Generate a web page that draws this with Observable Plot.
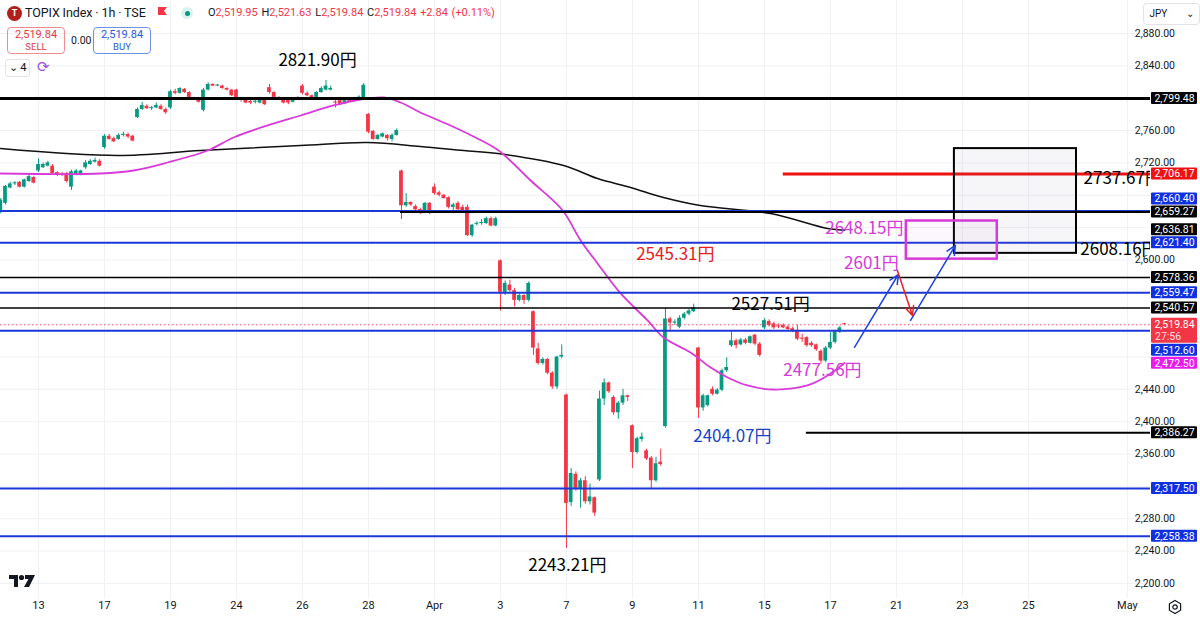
<!DOCTYPE html>
<html>
<head>
<meta charset="utf-8">
<script src="https://cdn.jsdelivr.net/npm/d3@7"></script>
<script src="https://cdn.jsdelivr.net/npm/@observablehq/plot@0.6"></script>
<style>
html,body{margin:0;padding:0;background:#fff;}
#wrap{position:relative;width:1200px;height:619px;overflow:hidden;font-family:Roboto,"Noto Sans",sans-serif;color:#131722;}
.ov{position:absolute;white-space:nowrap;}
</style>
</head>
<body>
<div id="wrap"></div>
<script>
// ---------- DATA ----------
// bar position: 0 = first hourly bar of Mar 13; 7 hourly bars per trading day
const barsPerDay = 7;
const firstBar = -8;          // last bar of Mar 11
const viewStart = -8.06, viewEnd = 235.9;
const priceMin = 2181.4, priceMax = 2920.8;

// [open, high, low, close] hourly candles, Mar 11 (last bar) .. Apr 17
const candles = [
 [2659,2676,2657,2674],
 // Mar 12
 [2670,2692,2668,2691],[2689,2696,2688,2694],[2694,2697,2692,2695],[2696,2697,2689,2690],[2690,2700,2689,2699],[2697,2706,2696,2703],[2702,2703,2694,2695],
 // Mar 13
 [2710,2725,2708,2718],[2714,2720,2713,2718],[2716,2722,2715,2720],[2716,2718,2706,2707],[2708,2709,2703,2705],[2706,2708,2703,2705],[2707,2708,2695,2697],
 // Mar 14
 [2690,2711,2686,2709],[2705,2712,2704,2710],[2705,2711,2704,2710],[2714,2723,2712,2720],[2718,2724,2717,2722],[2721,2726,2720,2723],[2722,2724,2715,2716],
 // Mar 17
 [2739,2755,2737,2753],[2753,2755,2748,2749],[2750,2752,2745,2746],[2749,2756,2748,2754],[2754,2758,2752,2755],[2755,2757,2750,2752],[2753,2754,2746,2747],
 // Mar 18
 [2776,2788,2775,2786],[2786,2795,2785,2791],[2790,2792,2786,2787],[2787,2790,2785,2788],[2788,2794,2787,2791],[2790,2792,2785,2786],[2786,2788,2780,2782],
 // Mar 19
 [2788,2810,2786,2808],[2808,2811,2804,2806],[2806,2813,2805,2812],[2811,2812,2806,2807],[2807,2808,2800,2801],[2800,2801,2797,2799],[2799,2800,2794,2795],
 // Mar 21
 [2785,2812,2783,2810],[2810,2819,2809,2817],[2817,2818,2814,2815],[2815,2817,2814,2815.5],[2815,2816,2811,2812],[2812,2813,2809,2810],[2810,2811,2802,2803],
 // Mar 24
 [2810,2811,2799,2801],[2799,2801,2795,2798],[2799,2800,2793,2794],[2796,2797,2792,2794],[2795,2797,2793,2795.5],[2794,2799,2793,2798],[2798,2799,2791,2792],
 // Mar 25
 [2813,2817,2805,2807],[2807,2808,2800,2801],[2800,2802,2797,2799],[2799,2800,2793,2794],[2797,2798,2792,2794],[2795,2800,2794,2799],[2799,2802,2797,2800],
 // Mar 26
 [2815,2817,2804,2806],[2806,2808,2802,2803],[2803,2804,2798,2799],[2801,2808,2800,2807],[2807,2814,2806,2812],[2810,2821.9,2809,2815],[2810,2815,2809,2812],
 // Mar 27
 [2795,2799,2788,2794],[2797,2798,2791,2793],[2793,2798,2792,2797],[2799,2800,2795,2796],[2796,2801,2795,2800],[2800,2803,2799,2801],[2799,2818,2798,2816],
 // Mar 28
 [2780,2781,2756,2758],[2759,2760,2748,2749],[2749,2755,2748,2754],[2752,2757,2751,2756],[2754,2755,2747,2750],[2749,2756,2746,2754],[2754,2762,2753,2760],
 // Mar 31
 [2710,2711,2650,2667],[2667,2682,2665,2671],[2671,2672,2666,2668],[2666,2668,2660,2662],[2662,2664,2656,2661],[2661,2671,2659,2670],[2670,2671,2656,2658],
 // Apr 1
 [2690,2694,2680,2682],[2683,2685,2678,2680],[2680,2681,2675,2676],[2677,2678,2663,2665],[2665,2670,2657,2668],[2670,2672,2660,2662],[2665,2668,2658,2660],
 // Apr 2
 [2665,2668,2629,2630],[2630,2644,2628,2643],[2644,2647,2642,2645],[2645,2650,2643,2646],[2645,2653,2644,2651],[2651,2653,2641,2642],[2642,2653,2641,2651],
 // Apr 3
 [2599,2600,2537,2560],[2560,2574,2556,2571],[2569,2575,2560,2562],[2562,2565,2542,2550],[2550,2558,2548,2556],[2556,2557,2545,2550],[2550,2573,2548,2571],
 // Apr 4
 [2536,2537,2482,2491],[2490,2497,2470,2472],[2472,2479,2470,2477],[2477,2478,2458,2460],[2460,2462,2440,2443],[2443,2481,2440,2480],[2480,2495,2478,2482],
 // Apr 7
 [2433,2434,2243.21,2299],[2300,2342,2295,2336],[2335,2338,2314,2317],[2317,2330,2293,2327],[2327,2332,2298,2301],[2301,2323,2297,2307],[2306,2307,2283,2287],
 // Apr 8
 [2328,2438,2326,2428],[2428,2453,2420,2448],[2448,2449,2435,2437],[2430,2432,2408,2411],[2411,2425,2403,2423],[2423,2440,2420,2432],[2432,2433,2425,2430],
 // Apr 9
 [2395,2396,2342,2362],[2362,2381,2360,2379],[2378,2386,2375,2381],[2364,2366,2352,2354],[2355,2357,2317,2327],[2327,2356,2325,2348],[2350,2366,2345,2347],
 // Apr 10
 [2394,2540,2392,2527],[2527,2529,2511,2522],[2522,2526,2519,2523],[2517,2531,2515,2528],[2528,2535,2526,2533],[2533,2539,2531,2537],[2536,2545.31,2535,2541],
 // Apr 11
 [2491,2492,2404.07,2417],[2417,2434,2413,2432],[2420,2433,2418,2432],[2440,2443,2432,2434],[2434,2441,2433,2439],[2439,2465,2437,2463],[2463,2479,2461,2467],
 // Apr 14
 [2494,2511,2492,2500],[2500,2502,2490,2494],[2495,2503,2494,2501],[2501,2503,2495,2497],[2497,2506,2496,2505],[2507,2508,2494,2496],[2496,2498,2480,2482],
 // Apr 15
 [2516,2527.51,2514,2525],[2524,2526,2517,2519],[2521,2523,2514,2516],[2518,2521,2515,2517],[2519,2521,2515,2516],[2517,2519,2512,2514],[2515,2517,2510,2512],
 // Apr 16
 [2513,2519,2500,2502],[2503,2508,2498,2502],[2504,2505,2492,2494],[2497,2499,2492,2494],[2495,2496,2487,2489],[2487,2489,2471,2475],[2475,2493,2473,2491],
 // Apr 17
 [2491,2510,2489,2498],[2498,2513,2496,2511],[2511,2518,2509,2516],[2519.95,2521.63,2519.84,2519.84]
];

// x-axis ticks: trading-day index (0 = Mar 13) and labels
const xTickDay   = [0,2,4,6,8,10,12,14,16,18,20,22,24,26,28,30,33];
const xTickLabel = ["13","17","19","24","26","28","Apr","3","7","9","11","15","17","21","23","25","May"];
const yTicks = d3.range(2200, 2881, 40);

// moving averages: [bar position, value]
const maPink = [[-8.06,2706.9],[13.2,2706.9],[20.2,2710.6],[27.4,2720.5],[35.9,2735.3],[41.4,2751.4],[48.6,2766.3],[55.6,2778.6],[62.6,2791.0],[68.3,2798.4],[73.2,2800.9],[76.8,2794.7],[81.0,2782.3],[87.4,2766.3],[92.7,2751.4],[97.6,2735.3],[104.4,2698.2],[111.2,2661.2],[115.0,2624.1],[118.6,2595.7],[123.5,2558.6],[129.2,2525.2],[132.6,2504.1],[138.3,2485.6],[142.6,2467.0],[146.2,2454.7],[150.4,2444.8],[155.9,2439.8],[163.1,2444.8],[167.4,2457.1],[171,2472.5]];
const maBlack = [[-8.06,2737.8],[16.8,2729.2],[34.4,2735.3],[55.6,2741.5],[69.8,2745.2],[81.0,2740.3],[90.2,2735.3],[97.4,2731.6],[111.4,2716.8],[118.6,2700.7],[125.6,2689.6],[132.6,2677.2],[140.4,2667.3],[155.3,2657.4],[167.4,2638.9],[171,2636.81]];

// horizontal price levels
const majorLevels = [2799.48];
const blackLevels = [2578.36, 2540.57];
const blueLevels  = [2660.40, 2621.40, 2559.47, 2512.60, 2317.50, 2258.38];
const blackRays   = [{v:2659.27, from:76.8},{v:2386.27, from:162.9}];
const redRays     = [{v:2706.17, from:158.0}];
const currentPrice = 2519.84;

// target zones
const targetBox = [{p1:194.3, p2:220.2, lo:2608.16, hi:2737.67}];
const entryBox  = [{p1:184.1, p2:203.4, lo:2601.00, hi:2648.15}];

// scenario arrows
const blueArrows = [{p1:173.1,v1:2491.8,p2:182.4,v2:2582.0},{p1:185.0,v1:2525.2,p2:194.5,v2:2617.9}];
const redArrows  = [{p1:182.2,v1:2587.0,p2:185.4,v2:2531.3}];

// annotations
const notesBlack   = [{p:59.2,v:2846.6,t:"2821.90円"},{p:112.2,v:2222.3,t:"2243.21円"},{p:155.3,v:2545.0,t:"2527.51円"}];
const notesRed     = [{p:135.1,v:2606.8,t:"2545.31円"}];
const notesMagenta = [{p:166.3,v:2463.3,t:"2477.56円"},{p:175.2,v:2638.9,t:"2648.15円"},{p:176.7,v:2595.6,t:"2601円"}];
const notesBlue    = [{p:147.2,v:2381.7,t:"2404.07円"}];
const notesEdge    = [{p:221.7,v:2700.7,t:"2737.67円"},{p:221.0,v:2613.0,t:"2608.16円"}];

// right-axis price tags: value, kind
const priceTags = [
 [2799.48,"black"],[2706.17,"red"],[2660.40,"blue"],[2659.27,"black"],[2636.81,"black"],
 [2621.40,"blue"],[2578.36,"black"],[2559.47,"blue"],[2540.57,"black"],[2519.84,"current"],
 [2512.60,"blue"],[2472.50,"magenta"],[2386.27,"black"],[2317.50,"blue"],[2258.38,"blue"]
];

// ---------- STYLE / LAYOUT ----------
const UP = "#089981", DN = "#f23645", BLUE = "#1c37d6", MAG = "#d93ad9", GRID = "#f0f1f5";
const noteFont = "'Noto Sans CJK JP','Noto Sans',sans-serif";
const W = 1200, H = 619, MR = 50, MB = 21;
const fmt = d3.format(",.2f");

// same y scale the plot will use, to lay out the axis tags beforehand
const yPre = Plot.scale({y:{domain:[priceMin, priceMax], range:[H-MB, 0]}});
const TH = 12;
const tags = priceTags.map(([v,k])=>({v,k,cy:yPre.apply(v)})).sort((a,b)=>a.cy-b.cy);
const fi = tags.findIndex(d=>d.k==="current");
const f = tags[fi]; f.top = f.cy-6.5; f.bottom = f.cy+18.5;
let prevBottom = f.bottom;
for (let i=fi+1;i<tags.length;i++){ const t=tags[i]; t.top=Math.max(t.cy-TH/2, prevBottom+1); t.bottom=t.top+TH; prevBottom=t.bottom; }
let nextTop = f.top;
for (let i=fi-1;i>=0;i--){ const t=tags[i]; t.bottom=Math.min(t.cy+TH/2, nextTop-1); t.top=t.bottom-TH; nextTop=t.top; }
// axis tick labels hidden behind a tag are not drawn
const shownTicks = yTicks.filter(v=>{
  const c = yPre.apply(v);
  return !tags.some(t=>Math.min(c+5,t.bottom)-Math.max(c-5,t.top) > 1.5);
});

const bars = candles.map(([o,h,l,c],i)=>({p:firstBar+i,o,h,l,c,up:c>=o}));

const plot = Plot.plot({
  width:W, height:H,
  marginLeft:0, marginRight:MR, marginTop:0, marginBottom:MB,
  x:{domain:[viewStart, viewEnd], axis:null},
  y:{domain:[priceMin, priceMax], axis:null},
  color:{type:"identity"},
  style:{fontFamily:"Roboto, 'Noto Sans', sans-serif", background:"#fff", overflow:"visible"},
  marks:[
    Plot.ruleY(yTicks,{stroke:GRID}),
    Plot.ruleX(xTickDay,{x:d=>d*barsPerDay, stroke:GRID}),
    Plot.ruleX(bars,{x:"p", y1:"l", y2:"h", stroke:d=>d.up?UP:DN, strokeWidth:1}),
    Plot.rect(bars,{x1:d=>d.p-0.4, x2:d=>d.p+0.4,
      y1:d=>Math.min(d.o,d.c), y2:d=>Math.max(Math.max(d.o,d.c), Math.min(d.o,d.c)+1.3),
      fill:d=>d.up?UP:DN}),
    Plot.line(maBlack,{x:d=>d[0], y:d=>d[1], stroke:"#111", strokeWidth:1.5, curve:"catmull-rom"}),
    Plot.line(maPink,{x:d=>d[0], y:d=>d[1], stroke:MAG, strokeWidth:1.8, curve:"catmull-rom"}),
    Plot.ruleY([currentPrice],{stroke:DN, strokeWidth:1, strokeDasharray:"1.5 2.5", strokeOpacity:0.8}),
    Plot.ruleY(blueLevels,{stroke:BLUE, strokeWidth:2}),
    Plot.ruleY(blackLevels,{stroke:"#000", strokeWidth:1.5}),
    Plot.ruleY(majorLevels,{stroke:"#000", strokeWidth:3}),
    Plot.ruleY(blackRays,{y:"v", x1:"from", x2:()=>viewEnd, stroke:"#000", strokeWidth:2}),
    Plot.ruleY(redRays,{y:"v", x1:"from", x2:()=>viewEnd, stroke:"#ee1111", strokeWidth:3}),
    Plot.rect(targetBox,{x1:"p1", x2:"p2", y1:"lo", y2:"hi", fill:"#8e92a8", fillOpacity:0.08, stroke:"#000", strokeWidth:2}),
    Plot.rect(entryBox,{x1:"p1", x2:"p2", y1:"lo", y2:"hi", fill:"#d070e0", fillOpacity:0.06, stroke:"#d63ad6", strokeWidth:2.5}),
    Plot.arrow(blueArrows,{x1:"p1", y1:"v1", x2:"p2", y2:"v2", stroke:"#1c45e0", strokeWidth:1.5, headLength:10, headAngle:50}),
    Plot.arrow(redArrows,{x1:"p1", y1:"v1", x2:"p2", y2:"v2", stroke:"#e8201e", strokeWidth:1.5, headLength:10, headAngle:50}),
    Plot.text(notesBlack,{x:"p", y:"v", text:"t", fill:"#000", fontSize:17, fontFamily:noteFont}),
    Plot.text(notesRed,{x:"p", y:"v", text:"t", fill:"#e8201e", fontSize:17, fontFamily:noteFont}),
    Plot.text(notesMagenta,{x:"p", y:"v", text:"t", fill:"#d63ad6", fontSize:17, fontFamily:noteFont}),
    Plot.text(notesBlue,{x:"p", y:"v", text:"t", fill:"#1a3fc9", fontSize:17, fontFamily:noteFont}),
    Plot.text(notesEdge,{x:"p", y:"v", text:"t", fill:"#000", fontSize:17, fontFamily:noteFont, textAnchor:"start", clip:true}),
    Plot.text(shownTicks,{y:d=>d, text:d=>fmt(d), frameAnchor:"right", dx:24.5, fontSize:10.5, fill:"#131722"}),
    Plot.text(xTickDay,{x:d=>d*barsPerDay, text:(d,i)=>xTickLabel[i], frameAnchor:"bottom", dy:10, fontSize:11, fill:"#131722"})
  ]
});
plot.style.position = "absolute"; plot.style.left = "0"; plot.style.top = "0";
const wrap = document.getElementById("wrap");
wrap.appendChild(plot);

// ---------- right-axis price tags ----------
const tagColor = {black:"#000", red:"#ee1111", blue:"#1030e0", magenta:"#e81ce8", current:"#f23645"};
const g = d3.select(plot).append("g").attr("font-family","Roboto, 'Noto Sans', sans-serif").attr("font-size",10.5);
for (const t of tags){
  g.append("rect").attr("x",1151).attr("y",t.top).attr("width",46).attr("height",t.bottom-t.top).attr("rx",1).attr("fill",tagColor[t.k]);
  g.append("text").attr("x",1174.5).attr("y",t.top+6).attr("dy","0.36em").attr("text-anchor","middle").attr("fill","#fff").text(fmt(t.v));
  if (t.k==="current") g.append("text").attr("x",1155).attr("y",t.top+18.5).attr("dy","0.36em").attr("text-anchor","start").attr("fill","#fff").attr("fill-opacity",0.85).text("27:56");
}

// ---------- header overlays ----------
wrap.insertAdjacentHTML("beforeend", `
<div class="ov" style="left:7px;top:6px;width:15px;height:15px;border-radius:50%;background:#b3201c;color:#fff;font-size:9px;font-weight:bold;text-align:center;line-height:15px">T</div>
<div class="ov" style="left:25px;top:5px;font-size:12.5px;letter-spacing:-0.1px;color:#131722">TOPIX Index · 1h · TSE</div>
<svg class="ov" style="left:157px;top:7px" width="11" height="12"><path d="M1 0 H10 L7 4 L10 8 H1 Z" fill="#f23645"/></svg>
<div class="ov" style="left:181px;top:7px;width:12px;height:12px;border-radius:50%;background:#d9f2ee"></div>
<div class="ov" style="left:184.5px;top:10.5px;width:5px;height:5px;border-radius:50%;background:#089981"></div>
<div class="ov" style="left:208px;top:6px;font-size:11px;color:#131722;word-spacing:1px">O<span style="color:#f23645">2,519.95</span> H<span style="color:#f23645">2,521.63</span> L<span style="color:#f23645">2,519.84</span> C<span style="color:#f23645">2,519.84</span> <span style="color:#f23645">+2.84 (+0.11%)</span></div>
<div class="ov" style="left:7px;top:27px;width:56px;height:24px;border:1px solid #f28b8f;border-radius:4px;color:#e03a45;text-align:center;font-size:11px;line-height:12px;padding-top:1px">2,519.84<br><span style="font-size:9.5px">SELL</span></div>
<div class="ov" style="left:71px;top:34px;font-size:10.5px;color:#131722">0.00</div>
<div class="ov" style="left:93px;top:27px;width:56px;height:24px;border:1px solid #6d8fe8;border-radius:4px;color:#2a5ad8;text-align:center;font-size:11px;line-height:12px;padding-top:1px">2,519.84<br><span style="font-size:9.5px">BUY</span></div>
<div class="ov" style="left:5px;top:59px;width:23px;height:16px;border:1px solid #e0e3eb;border-radius:3px;font-size:11px;line-height:16px;text-align:center;color:#131722">&#8964; 4</div>
<div class="ov" style="left:37px;top:58px;font-size:15px;color:#9c4fe0;font-family:'DejaVu Sans'">&#10227;</div>
<div class="ov" style="left:1143px;top:3px;width:52px;height:20px;border:1px solid #e0e3eb;border-radius:4px;font-size:10px;line-height:20px;color:#131722;padding-left:3px;box-sizing:content-box">&nbsp;JPY <span style="float:right;margin-right:5px">&#8964;</span></div>
<svg class="ov" style="left:9px;top:574px" width="28" height="14"><path d="M0 1 H9 V13 H5 V5 H0 Z" fill="#131722"/><circle cx="12.5" cy="3.5" r="2.6" fill="#131722"/><path d="M16 1 H26 L20 13 H15 L19.5 5 H16 Z" fill="#131722"/></svg>
<svg class="ov" style="left:1167px;top:599px" width="16" height="16"><path d="M8 1.5 L13.6 4.75 V11.25 L8 14.5 L2.4 11.25 V4.75 Z" fill="none" stroke="#131722" stroke-width="1.2"/><circle cx="8" cy="8" r="2.2" fill="none" stroke="#131722" stroke-width="1.2"/></svg>
`);
</script>
</body>
</html>
